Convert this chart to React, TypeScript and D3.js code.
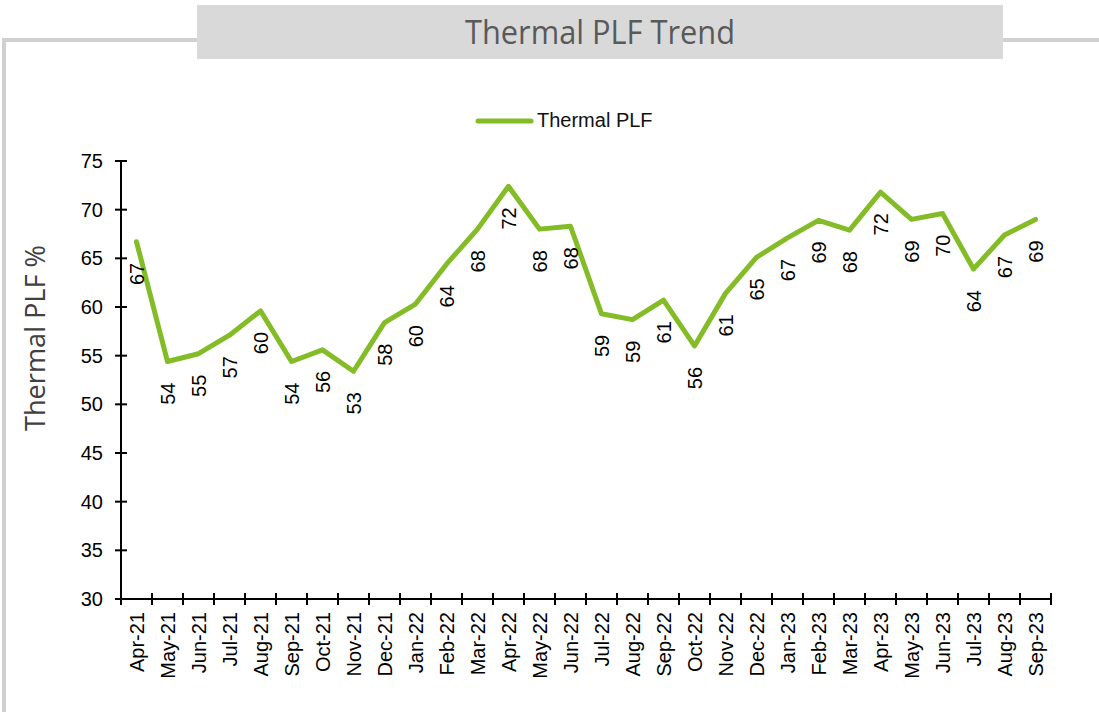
import * as d3 from "d3";

const months = [
  "Apr-21", "May-21", "Jun-21", "Jul-21", "Aug-21", "Sep-21", "Oct-21", "Nov-21",
  "Dec-21", "Jan-22", "Feb-22", "Mar-22", "Apr-22", "May-22", "Jun-22", "Jul-22",
  "Aug-22", "Sep-22", "Oct-22", "Nov-22", "Dec-22", "Jan-23", "Feb-23", "Mar-23",
  "Apr-23", "May-23", "Jun-23", "Jul-23", "Aug-23", "Sep-23",
];
const plfValues = [
  66.7, 54.4, 55.2, 57.1, 59.6, 54.4, 55.6, 53.4, 58.4, 60.3, 64.4, 68.0, 72.4, 68.0, 68.3,
  59.3, 58.7, 60.7, 56.0, 61.4, 65.1, 67.1, 68.9, 67.9, 71.8, 69.0, 69.6, 63.9, 67.4, 69.0,
];
const yDomain = [30, 75];
const yTickStep = 5;

const W = 1099;
const H = 712;
const plot = { left: 121, right: 1051, top: 161, bottom: 599 };
const green = "#83bc26";
const labelFont = "'Liberation Sans', Arial, sans-serif";
const titleFont = "'Open Sans', 'Noto Sans', sans-serif";

export default function App() {
  const x = d3.scaleBand<string>().domain(months).range([plot.left, plot.right]).padding(0);
  const y = d3.scaleLinear().domain(yDomain).range([plot.bottom, plot.top]);
  const cx = (m: string) => (x(m) ?? 0) + x.bandwidth() / 2;
  const yTicks = d3.range(yDomain[0], yDomain[1] + 0.01, yTickStep);
  const boundaries = months.map((m) => x(m) ?? 0).concat([plot.right]);
  const fmt = d3.format(".0f");

  const line = d3
    .line<number>()
    .x((_, i) => cx(months[i]))
    .y((d) => y(d));

  return (
    <div style={{ position: "fixed", left: 0, top: 0, width: W, height: H, background: "#fff" }}>
      <svg width={W} height={H} style={{ display: "block" }}>
        {/* frame */}
        <path d={`M4,712 V40 H1099`} fill="none" stroke="#d0d0d0" strokeWidth={4} />
        <rect x={197} y={5} width={806} height={54} fill="#d9d9d9" />
        <text
          x={600}
          y={43.5}
          textAnchor="middle"
          fontFamily={titleFont}
          fontSize={33}
          textLength={270}
          lengthAdjust="spacingAndGlyphs"
          fill="#595959"
        >
          Thermal PLF Trend
        </text>

        {/* legend */}
        <line x1={478} x2={531} y1={121} y2={121} stroke={green} strokeWidth={5} strokeLinecap="round" />
        <text x={537} y={127} fontFamily={labelFont} fontSize={20} fill="#111">
          Thermal PLF
        </text>

        {/* y axis */}
        <line x1={plot.left} x2={plot.left} y1={plot.top} y2={plot.bottom} stroke="#000" strokeWidth={2} />
        {yTicks.map((t) => (
          <g key={t}>
            <line x1={plot.left - 6} x2={plot.left + 6} y1={y(t)} y2={y(t)} stroke="#000" strokeWidth={2} />
            <text
              x={103}
              y={y(t)}
              dy="0.35em"
              textAnchor="end"
              fontFamily={labelFont}
              fontSize={20}
              fill="#000"
            >
              {t}
            </text>
          </g>
        ))}
        <text
          transform={`translate(45, 338) rotate(-90)`}
          textAnchor="middle"
          fontFamily={titleFont}
          fontSize={27}
          textLength={186}
          lengthAdjust="spacingAndGlyphs"
          fill="#404040"
        >
          Thermal PLF %
        </text>

        {/* x axis */}
        <line x1={plot.left} x2={plot.right} y1={plot.bottom} y2={plot.bottom} stroke="#000" strokeWidth={2} />
        {boundaries.map((b, i) => (
          <line key={i} x1={b} x2={b} y1={plot.bottom - 6} y2={plot.bottom + 6} stroke="#000" strokeWidth={2} />
        ))}
        {months.map((m) => (
          <text
            key={m}
            transform={`translate(${cx(m)}, ${plot.bottom + 13}) rotate(-90)`}
            dy="0.35em"
            textAnchor="end"
            fontFamily={labelFont}
            fontSize={20}
            fill="#000"
          >
            {m}
          </text>
        ))}

        {/* series */}
        <path
          d={line(plfValues) ?? ""}
          fill="none"
          stroke={green}
          strokeWidth={5}
          strokeLinejoin="round"
          strokeLinecap="round"
        />
        {plfValues.map((v, i) => (
          <text
            key={months[i]}
            transform={`translate(${cx(months[i])}, ${y(v) + 21}) rotate(-90)`}
            dy="0.35em"
            textAnchor="end"
            fontFamily={labelFont}
            fontSize={20}
            fill="#000"
          >
            {fmt(v)}
          </text>
        ))}
      </svg>
    </div>
  );
}
